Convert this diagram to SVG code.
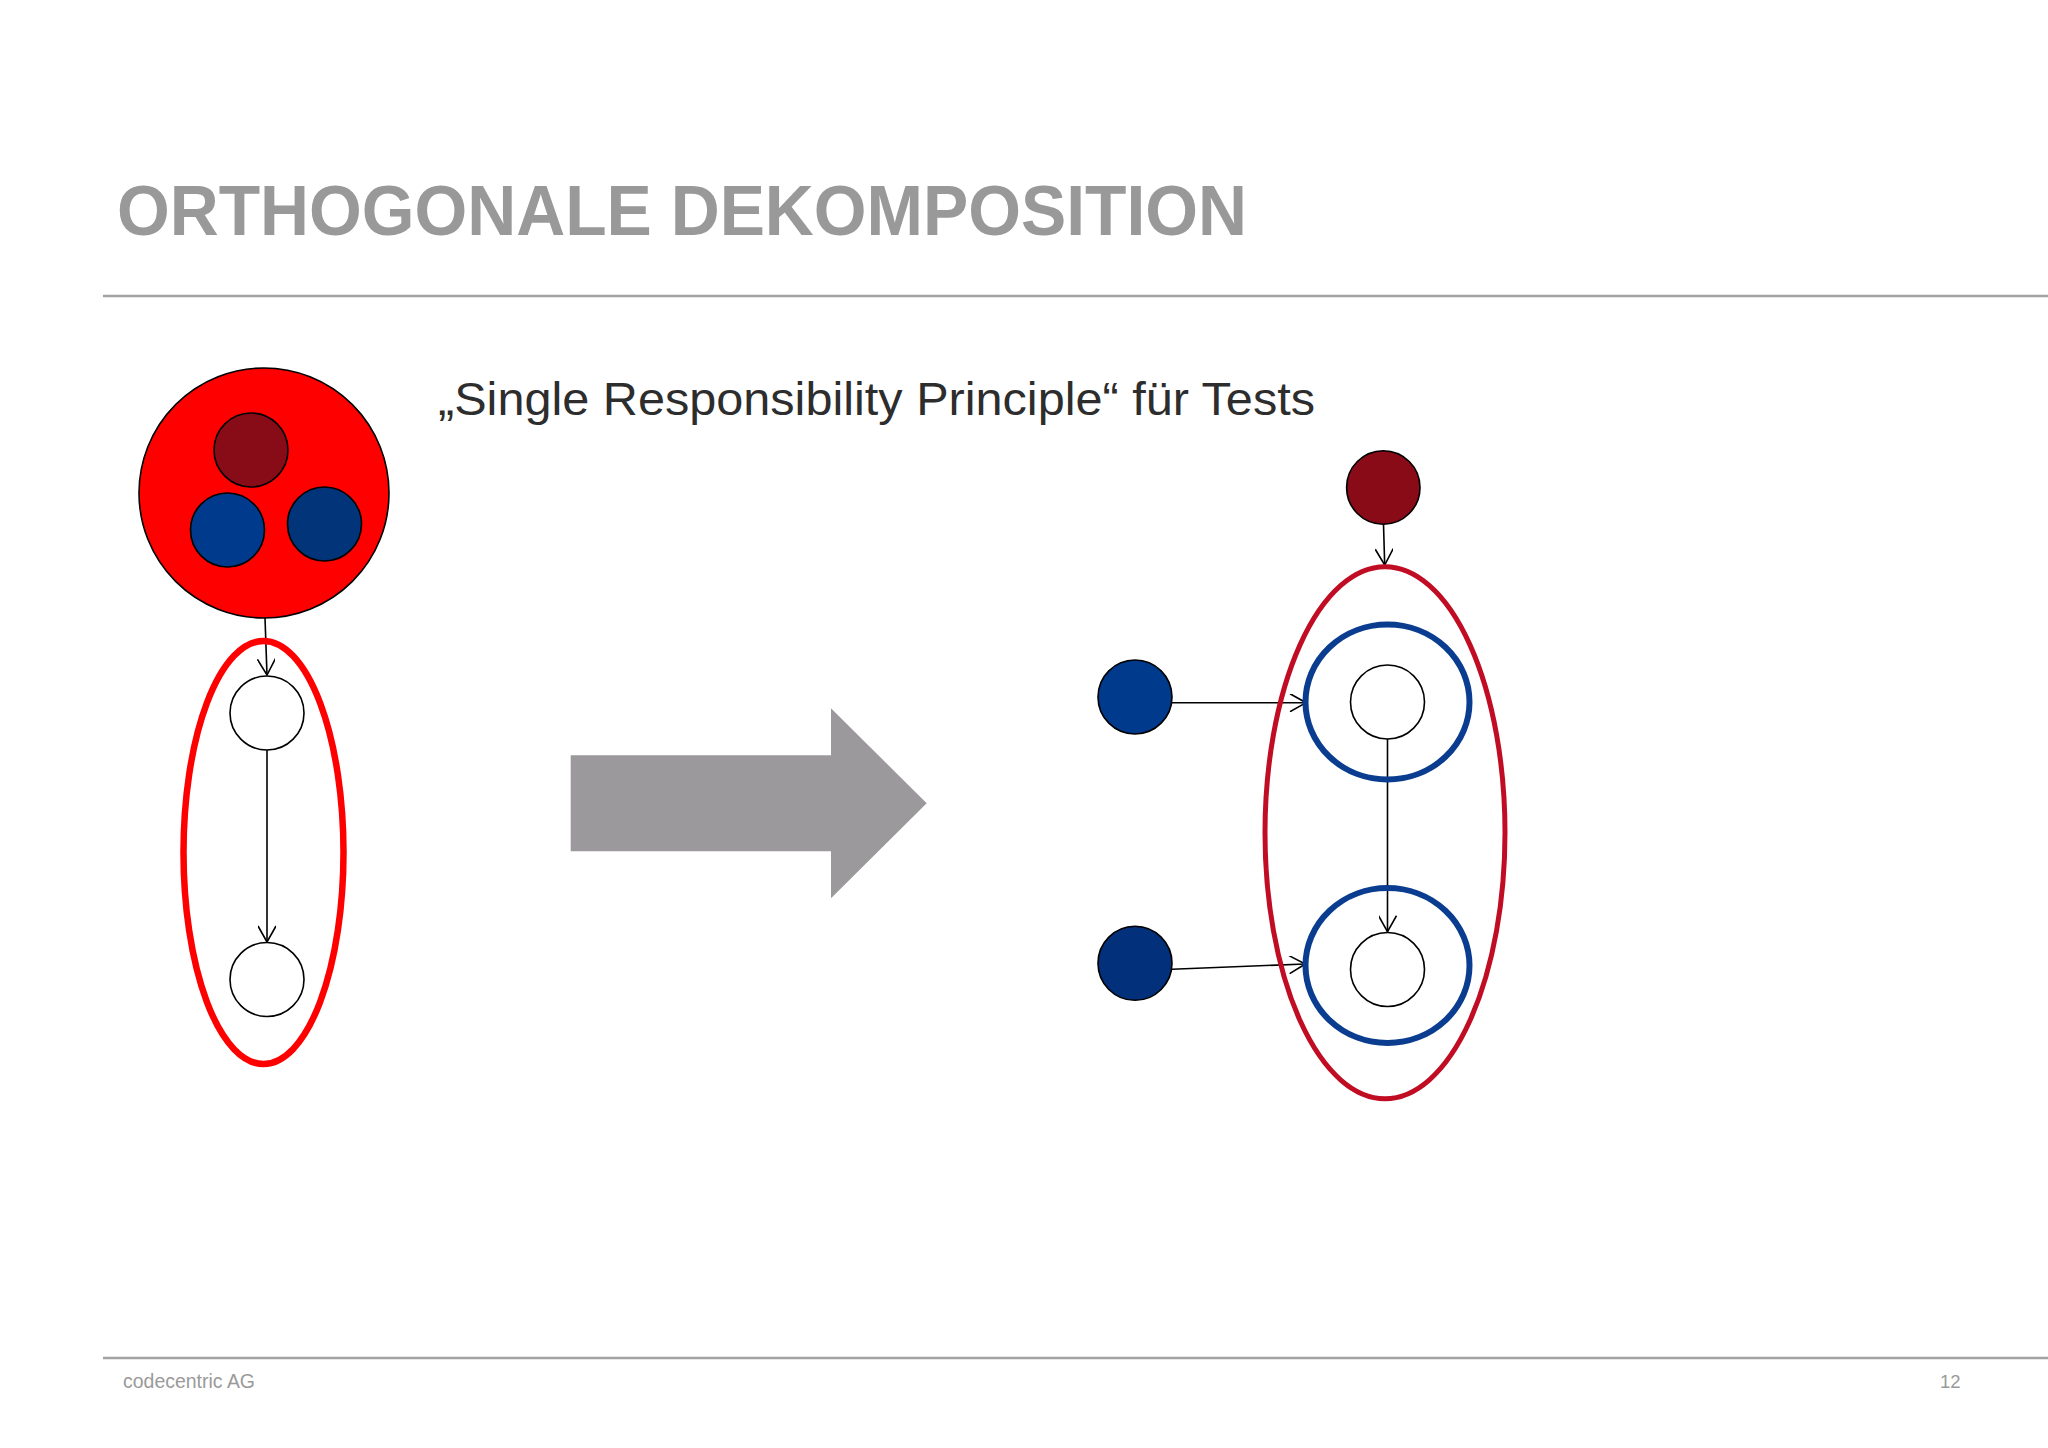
<svg xmlns="http://www.w3.org/2000/svg" width="2048" height="1448" viewBox="0 0 2048 1448">
  <defs>
    <style>
      .rule { stroke: #a3a3a3; stroke-width: 2.5; fill: none; }
      .node { stroke: #000; stroke-width: 1.6; }
      .empty { fill: #fff; }
      .edge { stroke: #000; stroke-width: 1.6; fill: none; marker-end: url(#arr); }
      .title { font-family: "Liberation Sans", Arial, sans-serif; font-weight: bold; fill: #999999; }
      .sub { font-family: "Liberation Sans", Arial, sans-serif; fill: #2d2d2d; }
      .foot { font-family: "Liberation Sans", Arial, sans-serif; fill: #9a9a9a; }
    </style>
    <marker id="arr" viewBox="0 0 18 18" refX="17" refY="9" markerWidth="18" markerHeight="18" markerUnits="userSpaceOnUse" orient="auto">
      <path d="M1,0 L17,9 L1,18" fill="none" stroke="#000" stroke-width="1.6"/>
    </marker>
  </defs>
  <rect x="0" y="0" width="2048" height="1448" fill="#ffffff"/>

  <text class="title" x="117" y="235" font-size="70" textLength="1130" lengthAdjust="spacingAndGlyphs">ORTHOGONALE DEKOMPOSITION</text>
  <line class="rule" x1="103" y1="296" x2="2048" y2="296"/>
  <text class="sub" x="438" y="415" font-size="46" textLength="877" lengthAdjust="spacingAndGlyphs">„Single Responsibility Principle“ für Tests</text>

  <g id="edges">
    <line class="edge" x1="265" y1="618" x2="267" y2="675"/>
    <line class="edge" x1="267" y1="750" x2="267" y2="942"/>
    <line class="edge" x1="1383.5" y1="524" x2="1384.7" y2="565"/>
    <line class="edge" x1="1172" y1="702.7" x2="1306" y2="702.7"/>
    <line class="edge" x1="1172" y1="969.3" x2="1305.3" y2="964"/>
    <line class="edge" x1="1387.5" y1="739" x2="1387.5" y2="931.7"/>
  </g>

  <g id="left-big">
    <circle class="node" cx="264" cy="493" r="125" fill="#ff0000"/>
  </g>
  <g id="left-darkred">
    <circle class="node" cx="251" cy="450" r="37" fill="#870c17"/>
  </g>
  <g id="left-blue1">
    <circle class="node" cx="227.5" cy="530" r="37" fill="#003a8c"/>
  </g>
  <g id="left-blue2">
    <circle class="node" cx="324.5" cy="524" r="37" fill="#02347a"/>
  </g>
  <g id="left-group">
    <ellipse cx="263.5" cy="852.5" rx="80" ry="211.5" fill="none" stroke="#ff0000" stroke-width="6.5"/>
  </g>
  <g id="left-node1">
    <circle class="node empty" cx="267" cy="713" r="37"/>
  </g>
  <g id="left-node2">
    <circle class="node empty" cx="267" cy="979.5" r="37"/>
  </g>

  <g id="big-arrow">
    <polygon points="570.7,755.3 831,755.3 831,708.3 926.7,803.3 831,898.3 831,851.3 570.7,851.3" fill="#9b999c"/>
  </g>

  <g id="right-darkred">
    <circle class="node" cx="1383.3" cy="487.5" r="36.7" fill="#890b17"/>
  </g>
  <g id="right-group">
    <ellipse cx="1385" cy="832.7" rx="120" ry="266" fill="none" stroke="#c00d24" stroke-width="5"/>
  </g>
  <g id="right-ring1">
    <ellipse cx="1387.5" cy="702" rx="82" ry="77.5" fill="none" stroke="#0a3d8f" stroke-width="6"/>
  </g>
  <g id="right-node1">
    <circle class="node empty" cx="1387.5" cy="702" r="37"/>
  </g>
  <g id="right-ring2">
    <ellipse cx="1387.5" cy="965.5" rx="82" ry="77.5" fill="none" stroke="#0a3d8f" stroke-width="6"/>
  </g>
  <g id="right-node2">
    <circle class="node empty" cx="1387.5" cy="969.5" r="37"/>
  </g>
  <g id="right-blue1">
    <circle class="node" cx="1135" cy="697" r="37" fill="#003a8c"/>
  </g>
  <g id="right-blue2">
    <circle class="node" cx="1135" cy="963.3" r="37" fill="#02307a"/>
  </g>

  <line class="rule" x1="103" y1="1358" x2="2048" y2="1358"/>
  <text class="foot" x="123" y="1388" font-size="19.5" textLength="132" lengthAdjust="spacingAndGlyphs">codecentric AG</text>
  <text class="foot" x="1940" y="1388" font-size="18.5">12</text>
</svg>
